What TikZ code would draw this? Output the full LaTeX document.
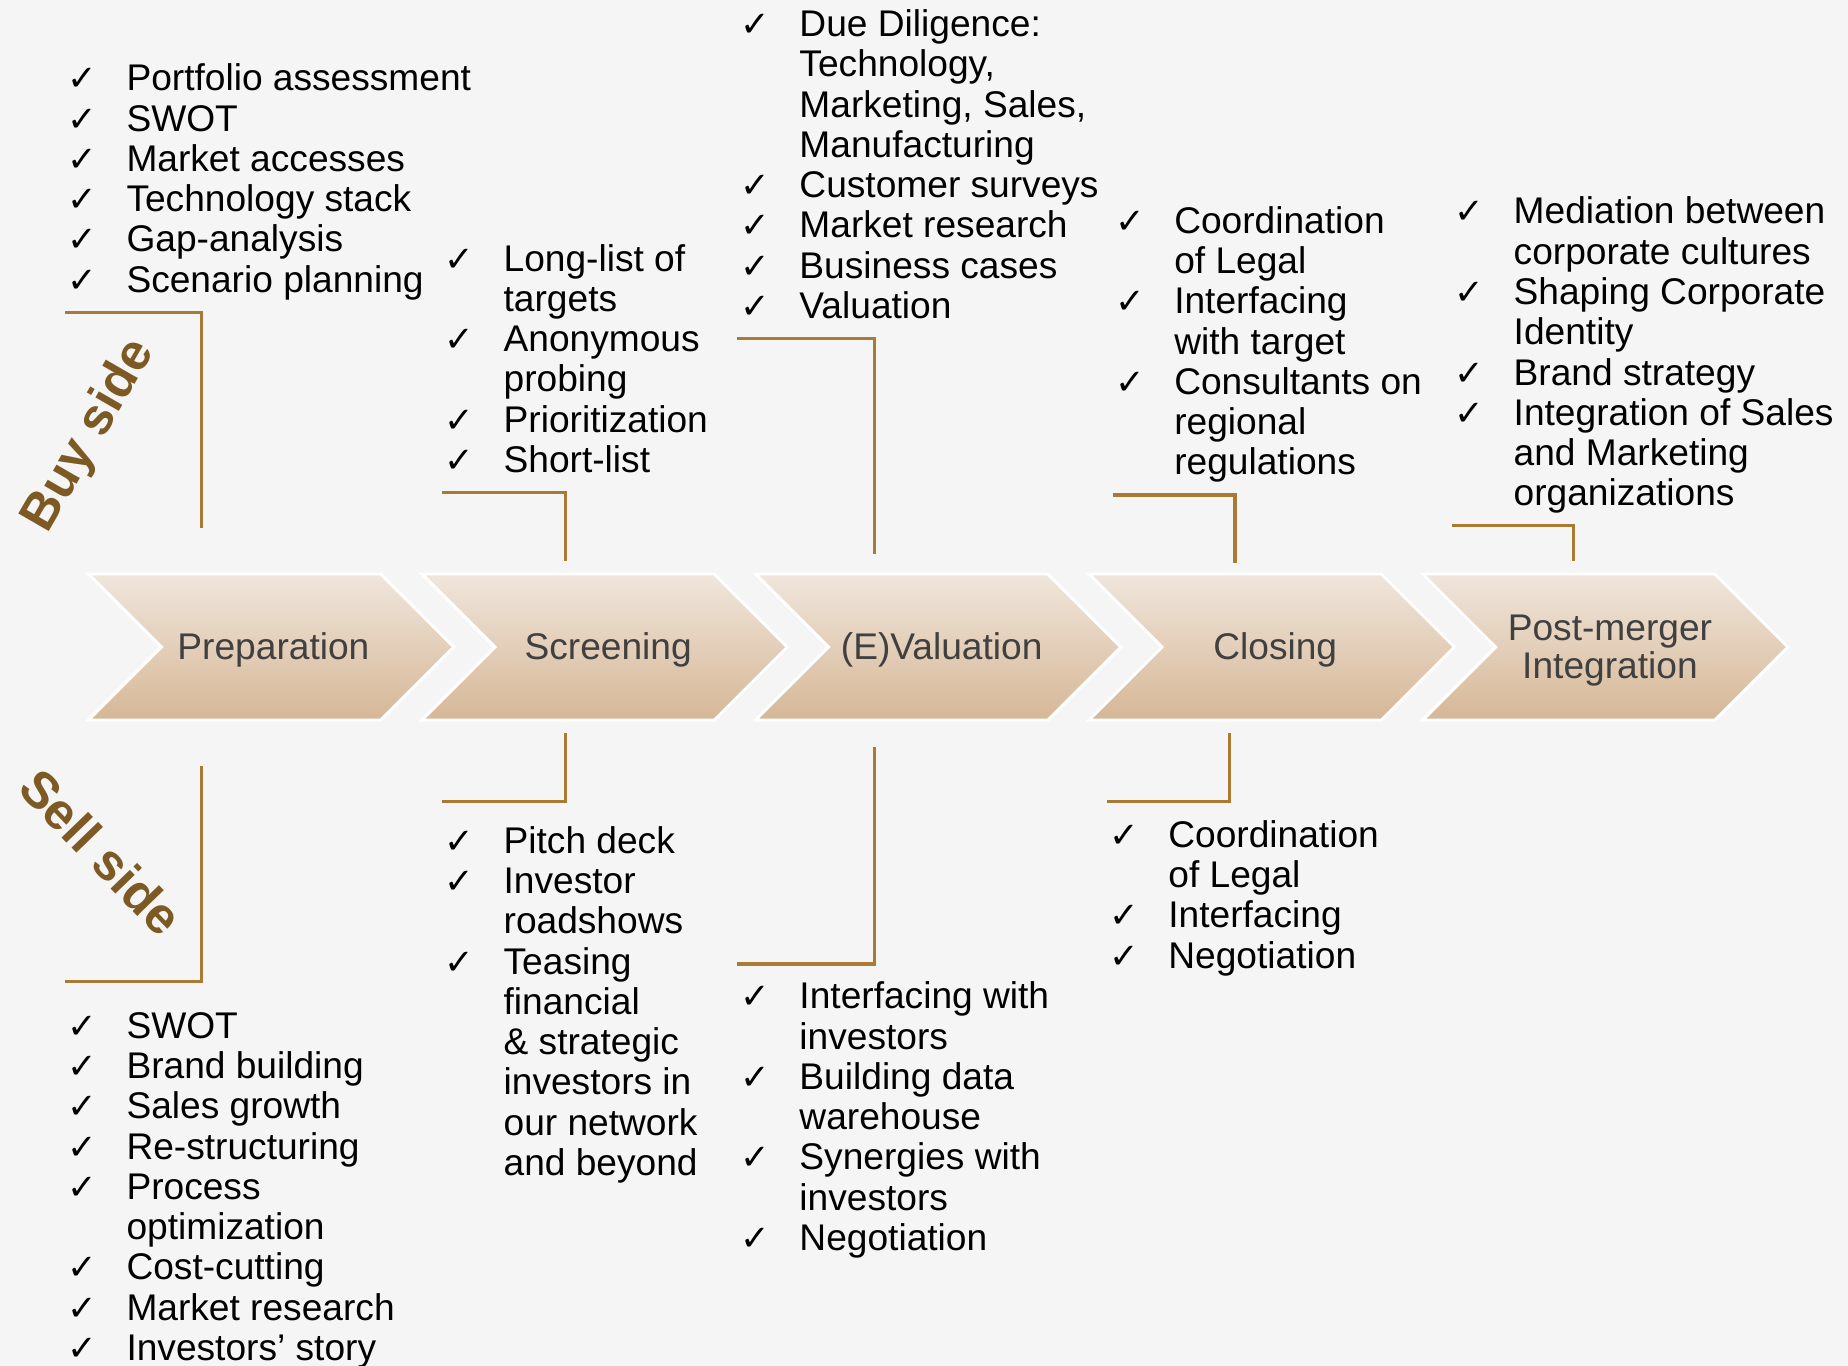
\documentclass[tikz,border=0pt]{standalone}
\usepackage{fontspec}
\setmainfont{Liberation Sans}
\newfontfamily\ckfont{DejaVu Sans}
\definecolor{bgc}{RGB}{245,245,245}
\definecolor{brc}{RGB}{168,122,52}
\definecolor{sidec}{RGB}{125,90,36}
\definecolor{chtxt}{RGB}{64,64,64}
\definecolor{chtop}{RGB}{240,230,220}
\definecolor{chbot}{RGB}{214,183,150}
\newcommand\ck{\makebox[30pt][l]{\ckfont\bfseries\fontsize{18pt}{18pt}\selectfont ✓}}
\begin{document}
\begin{tikzpicture}[x=0.6pt,y=-0.6pt,
  listbox/.style={anchor=base west, inner sep=0pt, font=\fontsize{18.9pt}{20.5pt}\selectfont},
  chevlabel/.style={inner sep=0pt, text=chtxt, font=\fontsize{18.9pt}{19.8pt}\selectfont, align=center},
  bracket/.style={draw=brc, line width=1.7pt},
  sidelabel/.style={inner sep=0pt, text=sidec, font=\fontsize{26pt}{27pt}\selectfont\bfseries}]
\fill[bgc] (0,0) rectangle (1568,1159);
\useasboundingbox (0,0) rectangle (1568,1159);
% chevrons
\foreach \k in {0,...,4}{
  \pgfmathsetmacro\xo{75+283*\k}
  \path[top color=chtop, bottom color=chbot, draw=white, line width=1.5pt]
    (\xo,487) -- ++(248,0) -- ++(62,62) -- ++(-62,62) -- ++(-248,0) -- ++(62,-62) -- cycle;
}
\node[chevlabel] (prep) at (232,551) {Preparation};
\node[chevlabel] (scr) at (516,551) {Screening};
\node[chevlabel] (eval) at (799,551) {(E)Valuation};
\node[chevlabel] (clos) at (1082,551) {Closing};
\node[chevlabel] (pmi) at (1366,552) {Post-merger\\Integration};
% side labels
\node[sidelabel, rotate=60] (buy) at (76,370) {Buy side};
\node[sidelabel, rotate=-46] (sell) at (86,723) {Sell side};
% brackets
\draw[bracket] (55,265) -| (171,448);
\draw[bracket] (171,650) |- (55,833);
\draw[bracket] (375,418) -| (480,476);
\draw[bracket] (480,622) |- (375,680);
\draw[bracket] (625,287) -| (742,470);
\draw[bracket] (742,634) |- (625,818);
\draw[bracket] (944,420) -| (1048,478);
\draw[bracket] (1043,622) |- (939,680);
\draw[bracket] (1232,446) -| (1335,476);
% buy-side lists
\node[listbox] (buyprep) at (57,77) {\begin{tabular}[t]{@{}l@{}l@{}}
\ck & Portfolio assessment\\
\ck & SWOT\\
\ck & Market accesses\\
\ck & Technology stack\\
\ck & Gap-analysis\\
\ck & Scenario planning
\end{tabular}};
\node[listbox] (buyscr) at (377,230) {\begin{tabular}[t]{@{}l@{}l@{}}
\ck & Long-list of\\
 & targets\\
\ck & Anonymous\\
 & probing\\
\ck & Prioritization\\
\ck & Short-list
\end{tabular}};
\node[listbox] (buyeval) at (628,31) {\begin{tabular}[t]{@{}l@{}l@{}}
\ck & Due Diligence:\\
 & Technology,\\
 & Marketing, Sales,\\
 & Manufacturing\\
\ck & Customer surveys\\
\ck & Market research\\
\ck & Business cases\\
\ck & Valuation
\end{tabular}};
\node[listbox] (buyclos) at (946,198) {\begin{tabular}[t]{@{}l@{}l@{}}
\ck & Coordination\\
 & of Legal\\
\ck & Interfacing\\
 & with target\\
\ck & Consultants on\\
 & regional\\
 & regulations
\end{tabular}};
\node[listbox] (buypmi) at (1234,190) {\begin{tabular}[t]{@{}l@{}l@{}}
\ck & Mediation between\\
 & corporate cultures\\
\ck & Shaping Corporate\\
 & Identity\\
\ck & Brand strategy\\
\ck & Integration of Sales\\
 & and Marketing\\
 & organizations
\end{tabular}};
% sell-side lists
\node[listbox] (sellprep) at (57,881) {\begin{tabular}[t]{@{}l@{}l@{}}
\ck & SWOT\\
\ck & Brand building\\
\ck & Sales growth\\
\ck & Re-structuring\\
\ck & Process\\
 & optimization\\
\ck & Cost-cutting\\
\ck & Market research\\
\ck & Investors’ story
\end{tabular}};
\node[listbox] (sellscr) at (377,724) {\begin{tabular}[t]{@{}l@{}l@{}}
\ck & Pitch deck\\
\ck & Investor\\
 & roadshows\\
\ck & Teasing\\
 & financial\\
 & \& strategic\\
 & investors in\\
 & our network\\
 & and beyond
\end{tabular}};
\node[listbox] (selleval) at (628,856) {\begin{tabular}[t]{@{}l@{}l@{}}
\ck & Interfacing with\\
 & investors\\
\ck & Building data\\
 & warehouse\\
\ck & Synergies with\\
 & investors\\
\ck & Negotiation
\end{tabular}};
\node[listbox] (sellclos) at (941,719) {\begin{tabular}[t]{@{}l@{}l@{}}
\ck & Coordination\\
 & of Legal\\
\ck & Interfacing\\
\ck & Negotiation
\end{tabular}};
\end{tikzpicture}
\end{document}
